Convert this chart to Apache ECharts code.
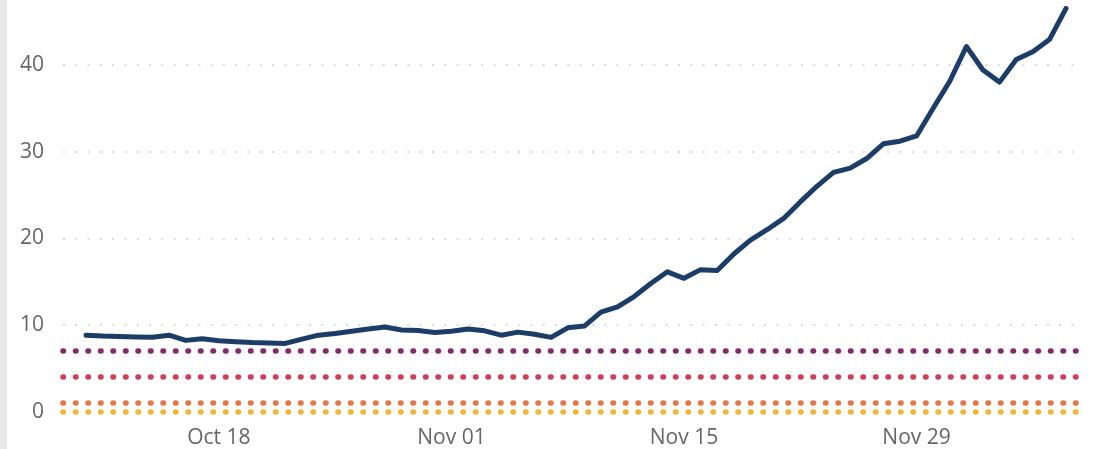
<!DOCTYPE html>
<html>
<head>
<meta charset="utf-8">
<script src="https://cdn.jsdelivr.net/npm/echarts@6/dist/echarts.min.js"></script>
<style>
  html, body { margin: 0; padding: 0; background: #fff; }
  #chart { width: 1096px; height: 449px; }
</style>
</head>
<body>
<div id="chart"></div>
<script>
// daily dates shown on the x axis
var dates = [
  '2020-10-10', '2020-10-11', '2020-10-12', '2020-10-13', '2020-10-14', '2020-10-15', '2020-10-16', '2020-10-17', '2020-10-18', '2020-10-19',
  '2020-10-20', '2020-10-21', '2020-10-22', '2020-10-23', '2020-10-24', '2020-10-25', '2020-10-26', '2020-10-27', '2020-10-28', '2020-10-29',
  '2020-10-30', '2020-10-31', '2020-11-01', '2020-11-02', '2020-11-03', '2020-11-04', '2020-11-05', '2020-11-06', '2020-11-07', '2020-11-08',
  '2020-11-09', '2020-11-10', '2020-11-11', '2020-11-12', '2020-11-13', '2020-11-14', '2020-11-15', '2020-11-16', '2020-11-17', '2020-11-18',
  '2020-11-19', '2020-11-20', '2020-11-21', '2020-11-22', '2020-11-23', '2020-11-24', '2020-11-25', '2020-11-26', '2020-11-27', '2020-11-28',
  '2020-11-29', '2020-11-30', '2020-12-01', '2020-12-02', '2020-12-03', '2020-12-04', '2020-12-05', '2020-12-06', '2020-12-07', '2020-12-08'
];

// main series
var values = [
  8.85, 8.75, 8.7, 8.65, 8.6, 8.85, 8.25, 8.45, 8.2, 8.1,
  8.0, 7.95, 7.9, 8.4, 8.85, 9.05, 9.3, 9.55, 9.8, 9.45,
  9.4, 9.15, 9.3, 9.55, 9.35, 8.85, 9.2, 8.95, 8.6, 9.7,
  9.9, 11.5, 12.1, 13.3, 14.8, 16.15, 15.4, 16.4, 16.3, 18.2,
  19.8, 21.0, 22.3, 24.2, 26.0, 27.6, 28.1, 29.2, 30.9, 31.2,
  31.8, 35.0, 38.1, 42.1, 39.4, 38.0, 40.6, 41.5, 42.9, 46.5
];

// dotted threshold levels
var thresholds = [7.1, 4.1, 1.05, 0.05];
var thresholdColors = ['#832b6b', '#cf3f58', '#e4774a', '#f0b83a'];

// x tick labels
var tickDates = ['2020-10-18', '2020-11-01', '2020-11-15', '2020-11-29'];
var tickLabels = ['Oct 18', 'Nov 01', 'Nov 15', 'Nov 29'];

var chart = echarts.init(document.getElementById('chart'));

var lineData = values.map(function (v, i) { return [i, v]; });
var tickIdx = tickDates.map(function (d) { return dates.indexOf(d); });

var series = [{
  type: 'line',
  data: lineData,
  symbol: 'none',
  smooth: false,
  lineStyle: { color: '#1b3d68', width: 5, join: 'round', cap: 'round' },
  z: 5
}];

thresholds.forEach(function (t, k) {
  series.push({
    type: 'line',
    data: [],
    silent: true,
    markLine: {
      silent: true,
      symbol: ['none', 'none'],
      label: { show: false },
      lineStyle: { color: thresholdColors[k], width: 5.5, type: [0.5, 12], cap: 'round', opacity: 1 },
      emphasis: { disabled: true },
      data: [{ yAxis: t }]
    },
    z: 3
  });
});

var option = {
  animation: false,
  grid: { left: 63, right: 16, top: 4, bottom: 37, outerBoundsMode: 'none' },
  graphic: [{
    type: 'rect',
    left: 0, top: 0,
    shape: { width: 7, height: 449 },
    style: { fill: '#e8e8e8' },
    silent: true
  }],
  xAxis: {
    type: 'value',
    min: -1.385,
    max: 59.84,
    axisLine: { show: false },
    axisTick: { show: false },
    splitLine: { show: false },
    axisLabel: {
      customValues: tickIdx,
      margin: 16,
      color: '#666',
      fontFamily: 'Open Sans',
      fontSize: 21,
      formatter: function (v) {
        var k = tickIdx.indexOf(Math.round(v));
        return k >= 0 ? tickLabels[k] : '';
      }
    }
  },
  yAxis: {
    type: 'value',
    min: 0,
    max: 47,
    interval: 10,
    axisLine: { show: false },
    axisTick: { show: false },
    axisLabel: {
      margin: 19,
      color: '#666',
      fontFamily: 'Open Sans',
      fontSize: 21,
      showMaxLabel: false
    },
    splitLine: {
      show: true,
      showMinLine: false,
      showMaxLine: false,
      lineStyle: { color: '#cfcfcf', width: 1.5, type: [2, 10.3] }
    }
  },
  series: series
};

chart.setOption(option);
</script>
</body>
</html>
